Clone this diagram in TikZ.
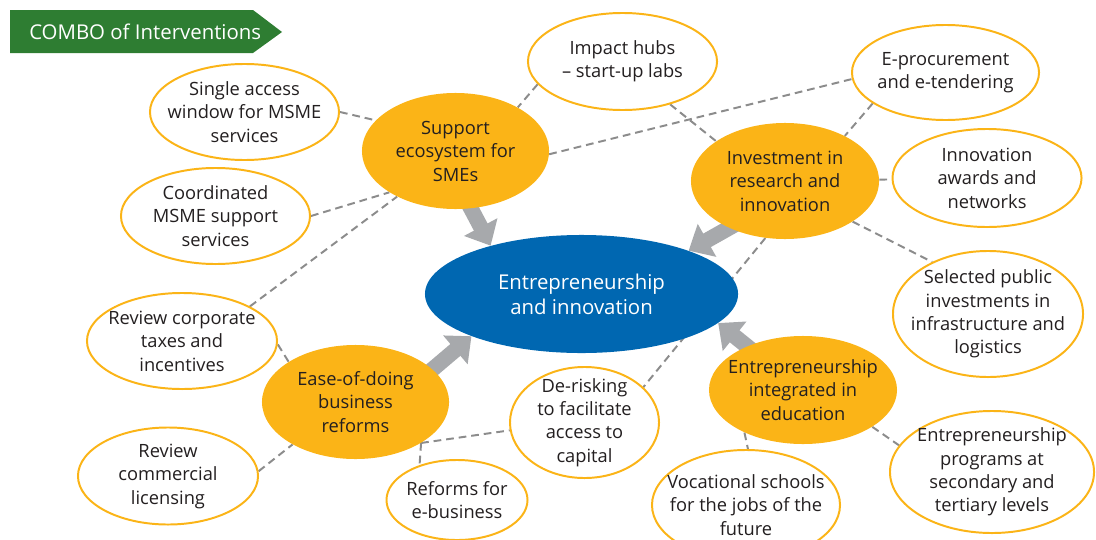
\documentclass[tikz,border=0pt]{standalone}
\usepackage{fontspec}
\setmainfont{Open Sans}
\usetikzlibrary{shapes.geometric,arrows.meta}
\definecolor{hubgold}{RGB}{251,180,23}
\definecolor{coreblue}{RGB}{0,103,177}
\definecolor{bannergreen}{RGB}{46,125,50}
\definecolor{linkgray}{RGB}{140,140,140}
\definecolor{pushgray}{RGB}{167,169,172}
\definecolor{ink}{RGB}{35,31,32}
\pgfdeclarelayer{bg}
\pgfsetlayers{bg,main}

\begin{document}
\begin{tikzpicture}[x=0.025cm,y=-0.025cm]
\tikzstyle{hub}=[ellipse,fill=hubgold,text=ink,align=center,inner sep=-15pt,font=\fontsize{13}{16.7}\selectfont]
\tikzstyle{leaf}=[ellipse,draw=hubgold,line width=1.4pt,fill=white,text=ink,align=center,inner sep=-15pt,font=\fontsize{13}{16.7}\selectfont]
\tikzstyle{link}=[linkgray,line width=1.4pt,dash pattern=on 5.5pt off 3.5pt]
\tikzstyle{push}=[pushgray,line width=11pt,shorten <=-5pt,-{Triangle[length=15pt,width=26pt]}]
\useasboundingbox (0,0) rectangle (1096,539);

% banner
\fill[bannergreen] (10,10) -- (253,10) -- (282,32) -- (253,53) -- (10,53) -- cycle;
\node[anchor=west,text=white,inner sep=0pt,font=\fontsize{14.5}{18}\selectfont] (title) at (29,32) {COMBO of Interventions};

% centre and the four hubs
\node[ellipse,fill=coreblue,text=white,align=center,inner sep=-15pt,minimum width=7.825cm,minimum height=2.95cm,font=\fontsize{14.5}{17.8}\selectfont] (core) at (581.5,294) {Entrepreneurship\\and innovation};
\node[hub,minimum width=4.675cm,minimum height=2.9cm] (support) at (455.5,151) {Support\\ecosystem for\\SMEs};
\node[hub,minimum width=4.7cm,minimum height=2.9cm] (invest) at (785,181) {Investment in\\research and\\innovation};
\node[hub,minimum width=4.675cm,minimum height=2.85cm] (ease) at (355.5,402) {Ease-of-doing\\business\\reforms};
\node[hub,minimum width=4.7cm,minimum height=2.7cm] (school) at (803,390) {Entrepreneurship\\integrated in\\education};

% interventions
\node[leaf,minimum width=4.725cm,minimum height=2.4cm] (window) at (244.5,112) {Single access\\window for MSME\\services};
\node[leaf,minimum width=4.725cm,minimum height=2.4cm] (coord) at (215.5,216) {Coordinated\\MSME support\\services};
\node[leaf,minimum width=4.725cm,minimum height=2.425cm] (hubs) at (622.5,61.5) {Impact hubs\\-- start-up labs};
\node[leaf,minimum width=4.675cm,minimum height=2.375cm] (tender) at (945.5,72.5) {E-procurement\\and e-tendering};
\node[leaf,minimum width=4.725cm,minimum height=2.45cm] (awards) at (987,178) {Innovation\\awards and\\networks};
\node[leaf,minimum width=4.75cm,minimum height=3.15cm] (public) at (988,314) {Selected public\\investments in\\infrastructure and\\logistics};
\node[leaf,minimum width=4.75cm,minimum height=2.4cm] (taxes) at (182,341) {Review corporate\\taxes and\\incentives};
\node[leaf,minimum width=4.5cm,minimum height=2.425cm] (licence) at (168,476) {Review\\commercial\\licensing};
\node[leaf,minimum width=3.725cm,minimum height=2.775cm] (derisk) at (584.5,422.5) {De-risking\\to facilitate\\access to\\capital};
\node[leaf,minimum width=3.525cm,minimum height=2cm] (ebiz) at (457,500) {Reforms for\\e-business};
\node[leaf,minimum width=4.7cm,minimum height=2.75cm] (vocation) at (746,505) {Vocational schools\\for the jobs of the\\future};
\node[leaf,minimum width=5.1cm,minimum height=3.05cm] (programs) at (992,472) {Entrepreneurship\\programs at\\secondary and\\tertiary levels};

\begin{pgfonlayer}{bg}
\draw[link] (window.east) -- (support.159);
\draw[link] (coord.east) -- (support.212);
\draw[link] (taxes.27) -- (support.218);
\draw[link] (hubs.195) -- (support.35);
\draw[link] (support.-2) -- (tender.184);
\draw[link] (hubs.-42) -- (invest.150);
\draw[link] (tender.203) -- (invest.37);
\draw[link] (invest) -- (awards);
\draw[link] (invest.-31) -- (public.137);
\draw[link] (invest.251) -- (derisk.31);
\draw[link] (ease.-32) -- (derisk.186);
\draw[link] (ease.-32) -- (ebiz.137);
\draw[link] (taxes.-2) -- (ease.149);
\draw[link] (licence.3) -- (ease.214);
\draw[link] (school.216) -- (vocation.88);
\draw[link] (school.-28) -- (programs.164);
% block arrows into the centre
\draw[push] (support.-75) -- (core.152);
\draw[push] (invest.220) -- (core.22);
\draw[push] (ease.23) -- (core.201);
\draw[push] (school.142) -- (core.-12);
\end{pgfonlayer}
\end{tikzpicture}
\end{document}
